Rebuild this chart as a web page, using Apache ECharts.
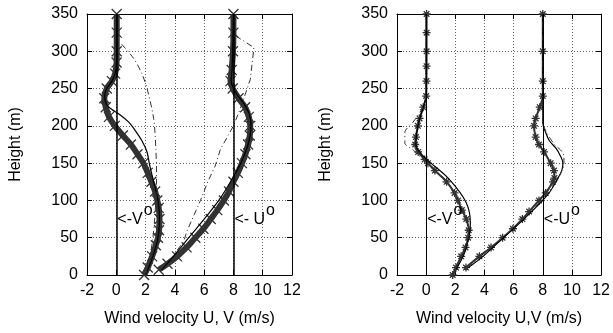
<!DOCTYPE html>
<html>
<head>
<meta charset="utf-8">
<script src="https://cdn.jsdelivr.net/npm/echarts@6/dist/echarts.min.js"></script>
<style>
  html, body { margin: 0; padding: 0; background: #fff; }
  #fig { width: 613px; height: 333px; }
</style>
</head>
<body>
<div id="fig"></div>
<script>
// axis ticks
const xTicks = [-2, 0, 2, 4, 6, 8, 10, 12]
const yTicks = [0, 50, 100, 150, 200, 250, 300, 350]
const xTitles = ['Wind velocity U, V (m/s)', 'Wind velocity U,V (m/s)']
const yTitle = 'Height (m)'
const refLines = [0, 8]   // observed V^o, U^o

// ---- left panel ----
const leftVMarkH = [0, 10, 25, 40, 50, 60, 75, 90, 100, 112, 125, 137, 150, 162, 175, 187, 200, 212, 225, 237, 250, 260, 270, 285, 300, 325, 350]
const leftVMark  = [1.9, 2.15, 2.45, 2.7, 2.85, 2.92, 2.95, 2.9, 2.8, 2.65, 2.4, 2.15, 1.85, 1.45, 1.0, 0.45, -0.1, -0.5, -0.72, -0.82, -0.65, -0.3, -0.08, 0.02, 0.03, 0.03, 0.03]
const leftVSolidH = [0, 25, 50, 75, 100, 125, 150, 165, 180, 195, 205, 215, 222, 228, 240, 250, 260, 270, 285, 300, 350]
const leftVSolid  = [2.0, 2.5, 2.85, 2.95, 2.85, 2.55, 2.25, 2.1, 1.75, 1.25, 0.85, 0.25, -0.3, -0.65, -0.8, -0.65, -0.3, -0.08, 0.02, 0.03, 0.03]
const leftVDashH = [0, 25, 50, 75, 100, 130, 170, 210, 250, 270, 290, 311]
const leftVDash  = [2.0, 2.3, 2.5, 2.62, 2.7, 2.75, 2.7, 2.55, 2.1, 1.75, 1.2, 0.3]

const leftUMarkH = [7, 15, 25, 37, 50, 62, 75, 87, 100, 112, 125, 137, 150, 162, 175, 187, 200, 212, 225, 237, 250, 260, 275, 300, 325, 350]
const leftUMark  = [2.9, 3.5, 4.15, 4.8, 5.4, 5.95, 6.45, 6.9, 7.35, 7.7, 8.0, 8.3, 8.58, 8.82, 9.0, 9.12, 9.15, 9.05, 8.8, 8.35, 7.95, 7.8, 7.88, 7.97, 8.0, 8.0]
const leftUSolidH = [7, 25, 50, 75, 100, 125, 150, 175, 200, 215, 230, 245, 260, 280, 350]
const leftUSolid  = [3.1, 3.9, 4.95, 6.0, 7.0, 7.8, 8.5, 9.0, 9.2, 9.1, 8.7, 8.15, 7.85, 7.92, 8.0]
const leftUDashH = [7, 25, 45, 60, 80, 100, 125, 146, 168, 200, 222, 262, 305, 320]
const leftUDash  = [3.0, 3.85, 4.6, 4.85, 5.3, 5.75, 6.25, 6.75, 7.1, 8.0, 8.45, 9.15, 9.4, 8.2]

// ---- right panel ----
const rightVMarkH = [0, 10, 25, 37, 50, 60, 75, 87, 100, 110, 125, 140, 150, 155, 165, 175, 185, 200, 210, 225, 240, 260, 280, 300, 325, 350]
const rightVMark  = [1.82, 2.05, 2.4, 2.7, 2.88, 2.92, 2.75, 2.45, 2.18, 1.95, 1.4, 0.6, 0.12, -0.1, -0.55, -0.75, -0.7, -0.57, -0.45, -0.2, 0.0, 0.02, 0.03, 0.03, 0.03, 0.03]
const rightVSolidH = [8, 30, 56, 70, 97, 128, 155, 165, 175, 190, 205, 225, 240, 350]
const rightVSolid  = [2.07, 2.64, 2.98, 3.03, 2.75, 1.6, 0.03, -0.45, -0.7, -0.65, -0.5, -0.2, 0, 0]
const rightVDashH = [0, 25, 50, 75, 100, 125, 150, 160, 168, 177, 191, 205, 218, 235, 350]
const rightVDash  = [1.85, 2.4, 2.88, 2.8, 2.25, 1.45, 0.15, -0.5, -0.9, -1.46, -1.46, -0.9, -0.43, -0.05, 0]

const rightUMarkH = [10, 25, 37, 50, 62, 75, 85, 100, 110, 125, 130, 140, 150, 165, 175, 185, 200, 210, 225, 240, 260, 300, 350]
const rightUMark  = [2.73, 3.65, 4.45, 5.24, 5.95, 6.6, 7.06, 7.74, 8.2, 8.7, 8.8, 8.77, 8.54, 8.09, 7.74, 7.51, 7.4, 7.51, 7.79, 8.0, 8.0, 8.0, 8.0]
const rightUSolidH = [10, 25, 50, 75, 100, 112, 125, 140, 150, 160, 170, 180, 191, 204, 230, 350]
const rightUSolid  = [2.9, 3.9, 5.3, 6.7, 8.0, 8.5, 8.9, 9.3, 9.38, 9.2, 8.9, 8.45, 8.2, 8.0, 8.0, 8.0]
const rightUDashH = [10, 25, 50, 75, 100, 120, 135, 150, 160, 168, 175, 190, 205, 230, 350]
const rightUDash  = [2.85, 3.8, 5.25, 6.65, 7.9, 8.7, 9.2, 9.45, 9.45, 9.2, 8.8, 8.3, 8.0, 8.0, 8.0]

const refLabels = ['<-V', '<- U', '<-V', '<-U']
const labelHeight = 80

const font = 'Liberation Sans'
const crossSym = 'path://M0,0L10,10M10,0L0,10'
const starSym = 'path://M5,0L5,10M0,5L10,5M1.5,1.5L8.5,8.5M8.5,1.5L1.5,8.5'

function pairs(xs, hs) {
  return hs.map((h, i) => [xs[i], h])
}

function xAx(grid, pos) {
  let bottom = pos === 'bottom'
  return {
    type: 'value', gridIndex: grid, position: pos,
    min: xTicks[0], max: xTicks[xTicks.length - 1], interval: xTicks[1] - xTicks[0],
    name: bottom ? xTitles[grid] : '', nameLocation: 'middle', nameGap: 36,
    nameTextStyle: { fontFamily: font, fontSize: 16, color: '#000' },
    axisLine: { show: true, onZero: false, lineStyle: { color: '#000', width: 1 } },
    axisTick: { show: true, inside: true, length: 5, lineStyle: { color: '#000' } },
    axisLabel: { show: bottom, margin: 8, fontFamily: font, fontSize: 16, color: '#000' },
    splitLine: { show: bottom, lineStyle: { type: [1, 2], color: '#666', width: 1 } }
  }
}

function yAx(grid, pos) {
  let left = pos === 'left'
  return {
    type: 'value', gridIndex: grid, position: pos,
    min: yTicks[0], max: yTicks[yTicks.length - 1], interval: yTicks[1] - yTicks[0],
    name: left ? yTitle : '', nameLocation: 'middle', nameGap: 63, nameRotate: 90,
    nameTextStyle: { fontFamily: font, fontSize: 16, color: '#000' },
    axisLine: { show: true, onZero: false, lineStyle: { color: '#000', width: 1 } },
    axisTick: { show: true, inside: true, length: 5, lineStyle: { color: '#000' } },
    axisLabel: { show: left, margin: 9, fontFamily: font, fontSize: 16, color: '#000' },
    splitLine: { show: left, lineStyle: { type: [1, 2], color: '#666', width: 1 } }
  }
}

function markSeries(grid, xs, hs, left) {
  return {
    type: 'line', xAxisIndex: grid * 2, yAxisIndex: grid * 2,
    data: pairs(xs, hs), smooth: 0.35, showAllSymbol: true,
    symbol: left ? crossSym : starSym, symbolSize: left ? 10 : 8,
    lineStyle: { color: '#333', width: left ? 6 : 2 },
    itemStyle: { color: 'rgba(0,0,0,0)', borderColor: '#333', borderWidth: 1.3 },
    z: 3
  }
}

function solidSeries(grid, xs, hs) {
  return {
    type: 'line', xAxisIndex: grid * 2, yAxisIndex: grid * 2,
    data: pairs(xs, hs), smooth: 0.35, symbol: 'none',
    lineStyle: { color: '#000', width: 1.2 }, z: 4
  }
}

function dashSeries(grid, xs, hs, smooth) {
  return {
    type: 'line', xAxisIndex: grid * 2, yAxisIndex: grid * 2,
    data: pairs(xs, hs), smooth: smooth, symbol: 'none',
    lineStyle: { color: '#333', width: 1, type: [6, 3, 1, 3] }, z: 4
  }
}

// vertical reference lines at V^o, U^o with their labels
function refSeries(grid, width) {
  return {
    type: 'scatter', xAxisIndex: grid * 2, yAxisIndex: grid * 2,
    symbolSize: 0, silent: true, z: 5,
    itemStyle: { opacity: 1 },
    data: refLines.map((x, i) => ({
      value: [x, labelHeight],
      label: {
        show: true, position: 'right', distance: 1,
        formatter: '{a|' + refLabels[grid * 2 + i] + '}{b|o}',
        rich: {
          a: { fontFamily: font, fontSize: 16, color: '#000', verticalAlign: 'bottom' },
          b: { fontFamily: font, fontSize: 16, color: '#000', verticalAlign: 'bottom', padding: [0, 0, 9, 1] }
        }
      }
    })),
    markLine: {
      symbol: 'none', silent: true, label: { show: false },
      lineStyle: { color: '#000', width: width, type: 'solid' },
      data: refLines.map(x => ({ xAxis: x }))
    }
  }
}

let myChart = echarts.init(document.getElementById('fig'))

let option = {
  animation: false,
  backgroundColor: '#fff',
  grid: [
    { left: 87, top: 14, width: 205, height: 261 },
    { left: 397, top: 14, width: 205, height: 261 }
  ],
  xAxis: [xAx(0, 'bottom'), xAx(0, 'top'), xAx(1, 'bottom'), xAx(1, 'top')],
  yAxis: [yAx(0, 'left'), yAx(0, 'right'), yAx(1, 'left'), yAx(1, 'right')],
  series: [
    refSeries(0, 1.5),
    markSeries(0, leftVMark, leftVMarkH, true),
    solidSeries(0, leftVSolid, leftVSolidH),
    dashSeries(0, leftVDash, leftVDashH, 0.3),
    markSeries(0, leftUMark, leftUMarkH, true),
    solidSeries(0, leftUSolid, leftUSolidH),
    dashSeries(0, leftUDash, leftUDashH, false),

    refSeries(1, 1),
    markSeries(1, rightVMark, rightVMarkH, false),
    solidSeries(1, rightVSolid, rightVSolidH),
    dashSeries(1, rightVDash, rightVDashH, 0.3),
    markSeries(1, rightUMark, rightUMarkH, false),
    solidSeries(1, rightUSolid, rightUSolidH),
    dashSeries(1, rightUDash, rightUDashH, 0.3)
  ]
}

myChart.setOption(option)
</script>
</body>
</html>
